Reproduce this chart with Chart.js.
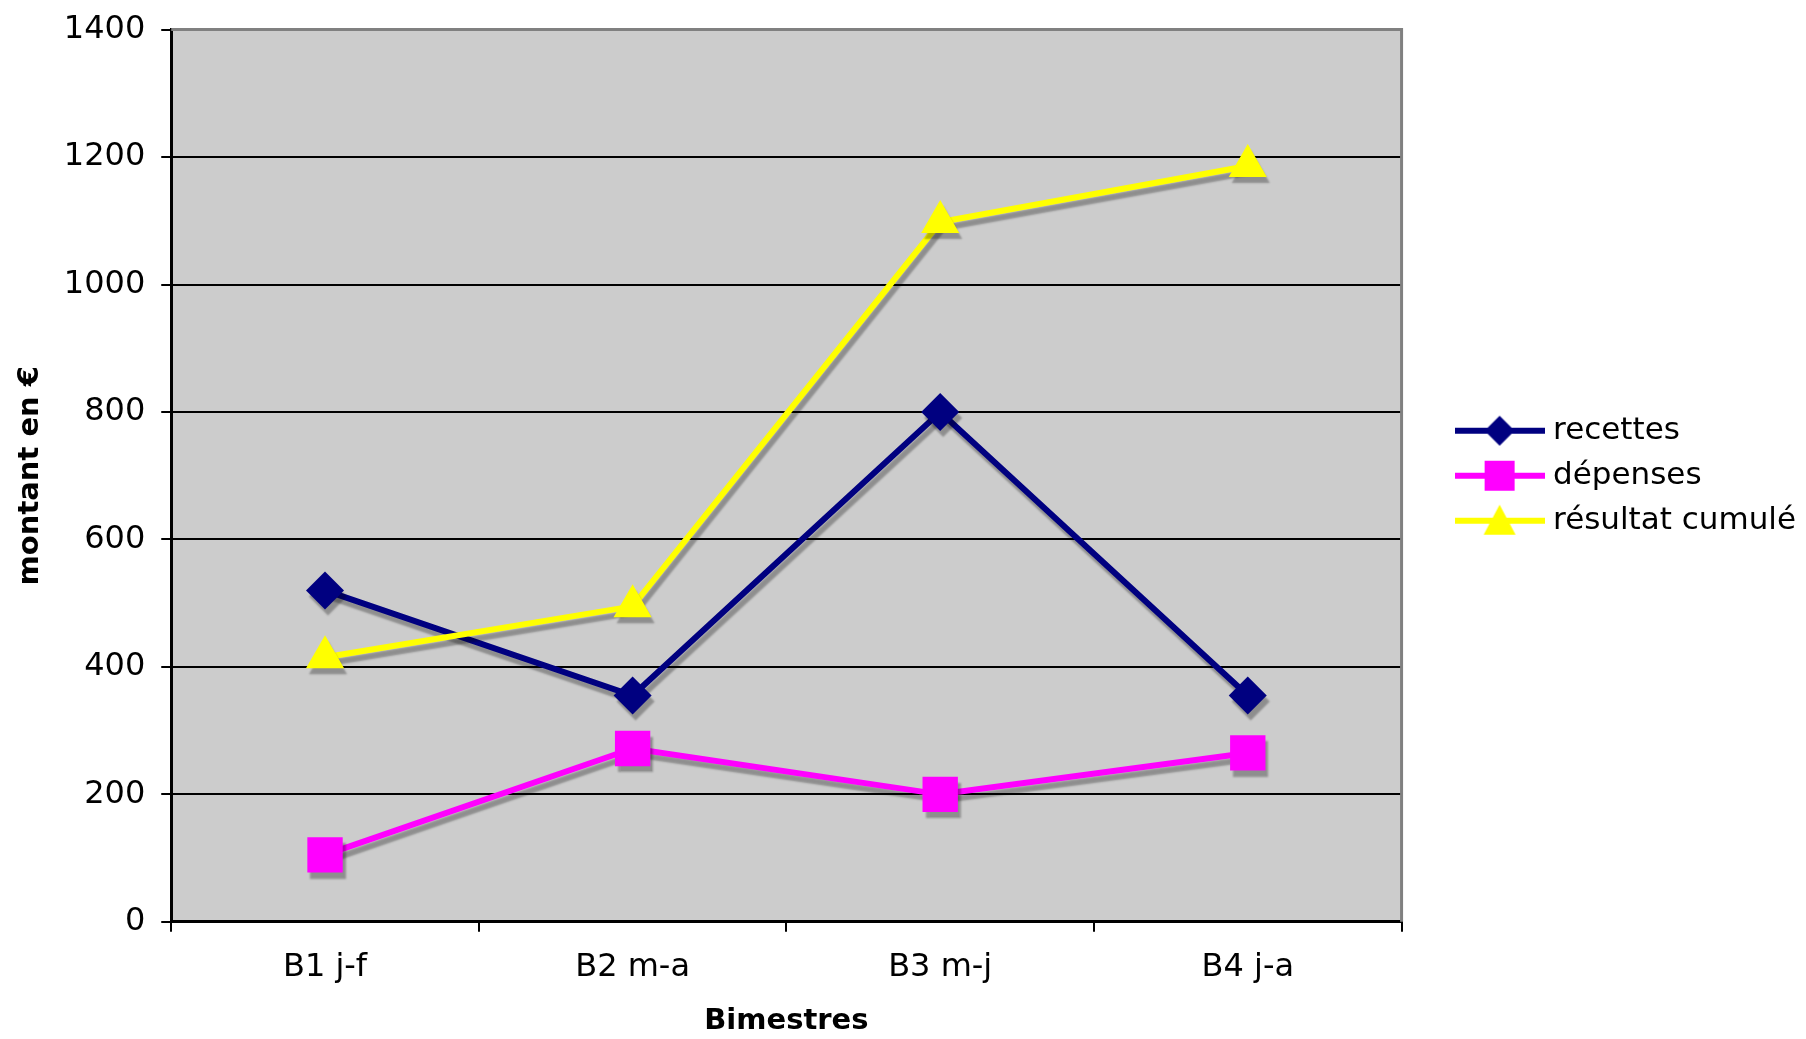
<!DOCTYPE html>
<html>
<head>
<meta charset="utf-8">
<script src="https://cdn.jsdelivr.net/npm/chart.js@4.4.1/dist/chart.umd.min.js"></script>
<style>
html,body{margin:0;padding:0;background:#fff;}
canvas{display:block;}
</style>
</head>
<body>
<canvas id="chart" width="1806" height="1039"></canvas>
<script>
const labels=["B1 j-f","B2 m-a","B3 m-j","B4 j-a"];
const recettes=[520,355,800,355];
const depenses=[105,272,200,265];
const resultat=[415,495,1098,1186];
const seriesNames=["recettes","dépenses","résultat cumulé"];
const yMin=0, yMax=1400, yStep=200;

const FONT="'DejaVu Sans', Verdana, sans-serif";
const NAVY="#000080", MAGENTA="#ff00ff", YELLOW="#ffff00";

// small line+marker icons for the legend
function legendIcon(color, shape){
  const cv=document.createElement("canvas");
  cv.width=90;cv.height=36;
  const c=cv.getContext("2d");
  c.strokeStyle=color;c.fillStyle=color;c.lineWidth=6;
  c.beginPath();c.moveTo(0,18);c.lineTo(90,18);c.stroke();
  c.beginPath();
  if(shape==="diamond"){c.moveTo(45,3);c.lineTo(60,18);c.lineTo(45,33);c.lineTo(30,18);}
  else if(shape==="square"){c.rect(30,3,30,30);}
  else {c.moveTo(45,2);c.lineTo(61,32);c.lineTo(29,32);}
  c.closePath();c.fill();
  return cv;
}
const icons=[legendIcon(NAVY,"diamond"),legendIcon(MAGENTA,"square"),legendIcon(YELLOW,"triangle")];

const plotBg={
  id:"plotBg",
  beforeDraw(chart){
    const {ctx,chartArea:a}=chart;
    ctx.save();ctx.fillStyle="#cccccc";
    ctx.fillRect(a.left,a.top,a.right-a.left,a.bottom-a.top);
    ctx.restore();
  },
  beforeDatasetsDraw(chart){
    const {ctx,chartArea:a}=chart;
    ctx.save();
    ctx.strokeStyle="#808080";ctx.lineWidth=3;
    ctx.beginPath();ctx.moveTo(a.left,a.top);ctx.lineTo(a.right,a.top);ctx.lineTo(a.right,a.bottom);ctx.stroke();
    ctx.restore();
    ctx.save();
    ctx.shadowColor="rgba(0,0,0,0.3)";ctx.shadowOffsetX=3;ctx.shadowOffsetY=6;ctx.shadowBlur=2;
  },
  afterDatasetsDraw(chart){chart.ctx.restore();}
};

new Chart(document.getElementById("chart"),{
  type:"line",
  data:{
    labels,
    datasets:[
      {label:seriesNames[0],data:recettes,borderColor:NAVY,backgroundColor:NAVY,borderWidth:6,pointStyle:"rectRot",pointRadius:19,pointBorderWidth:0,order:2},
      {label:seriesNames[1],data:depenses,borderColor:MAGENTA,backgroundColor:MAGENTA,borderWidth:6,pointStyle:"rect",pointRadius:25,pointBorderWidth:0,order:1},
      {label:seriesNames[2],data:resultat,borderColor:YELLOW,backgroundColor:YELLOW,borderWidth:6,pointStyle:"triangle",pointRadius:22,pointBorderWidth:0,order:0}
    ]
  },
  options:{
    responsive:false,
    animation:false,
    layout:{padding:{top:20,left:13,right:0,bottom:0}},
    elements:{line:{tension:0}},
    plugins:{
      tooltip:{enabled:false},
      legend:{
        position:"right",
        fullSize:false,
        maxWidth:420,
        labels:{
          usePointStyle:true,pointStyleWidth:76,padding:14,color:"#000",
          font:{family:FONT,size:31},
          generateLabels:ch=>ch.data.datasets.map((ds,i)=>({
            text:ds.label,pointStyle:icons[i],fillStyle:ds.borderColor,strokeStyle:ds.borderColor,
            lineWidth:0,hidden:false,datasetIndex:i,fontColor:"#000"
          }))
        }
      }
    },
    scales:{
      x:{
        offset:true,
        grid:{offset:true,drawOnChartArea:false,color:"#000",lineWidth:2,tickLength:10},
        border:{color:"#000",width:3},
        ticks:{color:"#000",padding:17,font:{family:FONT,size:32}},
        title:{display:true,text:"Bimestres",color:"#000",font:{family:FONT,size:29,weight:"bold"},padding:{top:0,bottom:0}}
      },
      y:{
        min:yMin,max:yMax,
        grid:{color:"#000",lineWidth:2,tickLength:10},
        border:{color:"#000",width:3},
        ticks:{stepSize:yStep,color:"#000",padding:16,font:{family:FONT,size:32,lineHeight:0.85},callback:v=>String(v)},
        title:{display:true,text:"montant en €",color:"#000",font:{family:FONT,size:29,weight:"bold"},padding:{top:0,bottom:0}}
      },
      gap:{
        type:"linear",position:"right",display:true,
        grid:{display:false},border:{display:false},ticks:{display:false},
        afterFit(s){s.width=46;}
      }
    }
  },
  plugins:[plotBg]
});
</script>
</body>
</html>
